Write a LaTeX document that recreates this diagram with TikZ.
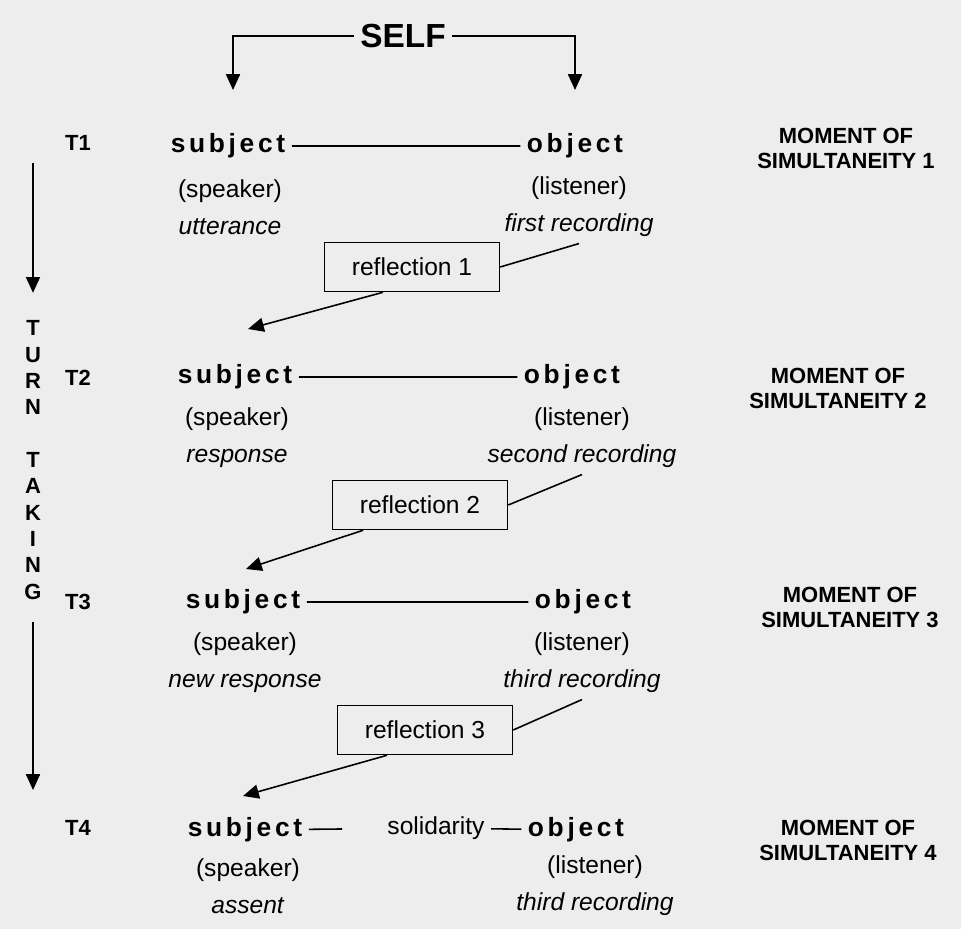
\documentclass[tikz,border=0pt]{standalone}
\usepackage{fontspec}
\setmainfont{Liberation Sans}
\newfontfamily\spacedfont[LetterSpace=14]{Liberation Sans}
\usetikzlibrary{arrows.meta, positioning}

\tikzset{
  self/.style={font=\fontsize{19}{22}\selectfont\bfseries},
  role/.style={font=\fontsize{15}{18}\selectfont\spacedfont\bfseries},
  turn/.style={font=\fontsize{12.5}{15}\selectfont\bfseries},
  moment/.style={align=center, font=\fontsize{12.5}{14.2}\selectfont\bfseries},
  note/.style={align=center, font=\fontsize{14}{21}\selectfont},
  reflect/.style={draw, minimum width=3.5cm, minimum height=0.98cm, font=\fontsize{14}{17}\selectfont},
  arr/.style={-{Triangle[length=9pt,width=8pt]}},
}

\begin{document}
\begin{tikzpicture}[x=0.02cm, y=-0.02cm, line width=0.9pt]
    \fill[black!7] (0,0) rectangle (961,929);
    \useasboundingbox (0,0) rectangle (961,929);

    % Draw the self and its two arrows
    \node[self] at (403,36) (self) {SELF};
    \coordinate (selfsub) at (233,90);
    \coordinate (selfobj) at (575,90);
    \draw[arr] (self) -| (selfsub);
    \draw[arr] (self) -| (selfobj);

    % Draw the turn taking axis
    \node[turn, align=center] at (33,460) (turn) {T\\U\\R\\N\\[15pt]T\\A\\K\\I\\N\\G};
    \coordinate (axistop) at (33,163);
    \coordinate (axisend) at (33,790);
    \draw[arr, shorten >=12pt] (axistop) -- (turn);
    \draw[arr, shorten <=9pt] (turn) -- (axisend);

    % Turn 1
    \node[turn] at (78,143) (t1) {T1};
    \node[role] at (228,146) (sub1) {subject};
    \node[role] at (575,146) (obj1) {object};
    \node[note] at (230,207) (spk1) {(speaker)\\\textit{utterance}};
    \node[note] at (579,207) (lis1) {(listener)\\\textit{first recording}};
    \node[moment] at (846,148) (mom1) {MOMENT OF\\SIMULTANEITY 1};
    \node[reflect] at (412,267) (ref1) {reflection 1};
    \coordinate (land1) at (248,329);

    % Turn 2
    \node[turn] at (78,378) (t2) {T2};
    \node[role] at (235,377) (sub2) {subject};
    \node[role] at (572,377) (obj2) {object};
    \node[note] at (237,438) (spk2) {(speaker)\\\textit{response}};
    \node[note] at (582,438) (lis2) {(listener)\\\textit{second recording}};
    \node[moment] at (838,388) (mom2) {MOMENT OF\\SIMULTANEITY 2};
    \node[reflect] at (420,505) (ref2) {reflection 2};
    \coordinate (land2) at (246,569);

    % Turn 3
    \node[turn] at (78,602) (t3) {T3};
    \node[role] at (243,602) (sub3) {subject};
    \node[role] at (583,602) (obj3) {object};
    \node[note] at (245,663) (spk3) {(speaker)\\\textit{new response}};
    \node[note] at (582,663) (lis3) {(listener)\\\textit{third recording}};
    \node[moment] at (850,607) (mom3) {MOMENT OF\\SIMULTANEITY 3};
    \node[reflect] at (425,730) (ref3) {reflection 3};
    \coordinate (land3) at (243,796);

    % Turn 4
    \node[turn] at (78,828) (t4) {T4};
    \node[role] at (245,830) (sub4) {subject};
    \node[note] at (436,828) (sol) {solidarity};
    \node[role] at (576,830) (obj4) {object};
    \node[note] at (248,886) (spk4) {(speaker)\\\textit{assent}};
    \node[note] at (595,886) (lis4) {(listener)\\\textit{third recording}};
    \node[moment] at (848,840) (mom4) {MOMENT OF\\SIMULTANEITY 4};

    % Connect subject, object and reflections
    \draw (sub1) -- (obj1)
          (sub2) -- (obj2)
          (sub3) -- (obj3)
          (sol) -- (obj4)
          (lis1.south) -- (ref1.east)
          (lis2.south) -- (ref2.east)
          (lis3.south) -- (ref3.east);
    \draw[shorten >=22pt] (sub4) -- (sol);
    \draw[arr] ([xshift=-0.58cm]ref1.south) -- (land1);
    \draw[arr] ([xshift=-1.14cm]ref2.south) -- (land2);
    \draw[arr] ([xshift=-0.76cm]ref3.south) -- (land3);
\end{tikzpicture}
\end{document}
